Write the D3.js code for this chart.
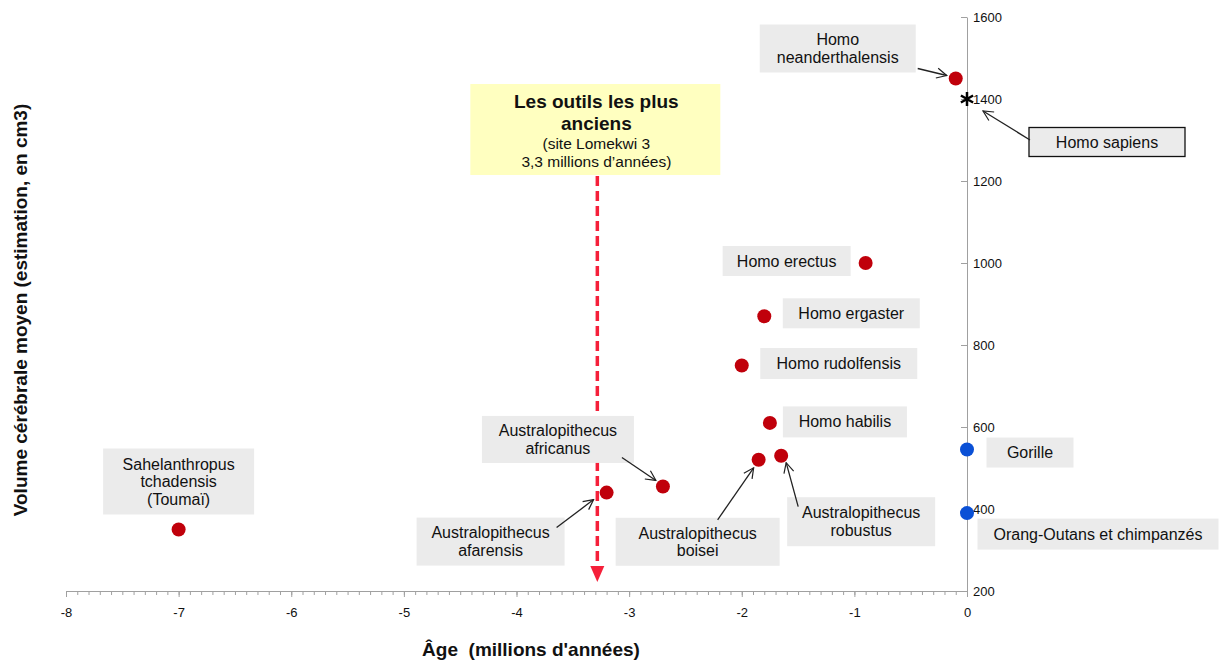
<!DOCTYPE html>
<html><head><meta charset="utf-8">
<script src="https://cdn.jsdelivr.net/npm/d3@7"></script>
<style>
html,body{margin:0;padding:0;background:#fff;}
svg{display:block;font-family:"Liberation Sans",Arial,sans-serif;}
</style></head>
<body><svg id="c" width="1219" height="661"></svg>
<script>
// ---- data ----
const species = ["Sahelanthropus tchadensis (Toumaï)","Australopithecus afarensis","Australopithecus africanus","Australopithecus boisei","Australopithecus robustus","Homo habilis","Homo rudolfensis","Homo ergaster","Homo erectus","Homo neanderthalensis","Homo sapiens","Gorille","Orang-Outans et chimpanzés"];
const ages    = [-7, -3.2, -2.7, -1.85, -1.65, -1.75, -2, -1.8, -0.9, -0.1, 0, 0, 0];
const volumes = [350, 440, 455, 520, 530, 610, 750, 870, 1000, 1450, 1400, 545, 390];
const groups  = ["hominine","hominine","hominine","hominine","hominine","hominine","hominine","hominine","hominine","hominine","sapiens","ape","ape"];
const labelLines = [
  ["Sahelanthropus","tchadensis","(Toumaï)"],
  ["Australopithecus","afarensis"],
  ["Australopithecus","africanus"],
  ["Australopithecus","boisei"],
  ["Australopithecus","robustus"],
  ["Homo habilis"],
  ["Homo rudolfensis"],
  ["Homo ergaster"],
  ["Homo erectus"],
  ["Homo","neanderthalensis"],
  ["Homo sapiens"],
  ["Gorille"],
  ["Orang-Outans et chimpanzés"]
];
const xTicks = [-8,-7,-6,-5,-4,-3,-2,-1,0];
const xTickLabels = ["-8","-7","-6","-5","-4","-3","-2","-1","0"];
const yTicks = [200,400,600,800,1000,1200,1400,1600];
const toolAge = -3.3;
const toolTitle = ["Les outils les plus","anciens"];
const toolSub = ["(site Lomekwi 3","3,3 millions d’années)"];
const xTitle = "Âge  (millions d'années)";
const yTitle = "Volume cérébrale moyen (estimation, en cm3)";

// ---- layout (box centre offsets from point in px, box size, optional arrow) ----
const layout = [
  {dx:0,dy:-48,w:151,h:66},
  {dx:-116,dy:49,w:148,h:48,arrow:[[-50,35],[-13,7]]},
  {dx:-105,dy:-47,w:152,h:47,arrow:[[-41,-29],[-7,-6]]},
  {dx:-61,dy:82,w:164,h:48,arrow:[[-41,60],[-5,8]]},
  {dx:80,dy:66,w:148,h:49,arrow:[[17,51],[5,7]]},
  {dx:75,dy:-1,w:124,h:31},
  {dx:97,dy:-2,w:157,h:31},
  {dx:87,dy:-3,w:137,h:30},
  {dx:-79,dy:-2,w:128,h:30},
  {dx:-118,dy:-30,w:156,h:48,arrow:[[-38,-10],[-9,-3]]},
  {dx:140,dy:43,w:156,h:29,border:true,arrow:[[63,41],[16,12]]},
  {dx:63,dy:3,w:87,h:30},
  {dx:131,dy:21,w:241,h:31}
];
const colors = {hominine:"#c0000b", ape:"#0a50d6", sapiens:"#000"};

const svg = d3.select("#c");
const x = d3.scaleLinear().domain([-8,0]).range([66,967]);
const y = d3.scaleLinear().domain([200,1600]).range([591,17]);
const axisCol = "#a0a0a0";

// arrow marker
const defs = svg.append("defs");
defs.append("marker").attr("id","open").attr("viewBox","0 0 12 12").attr("refX",11).attr("refY",6)
  .attr("markerWidth",12).attr("markerHeight",12).attr("markerUnits","userSpaceOnUse").attr("orient","auto")
  .append("path").attr("d","M1,1 L11,6 L1,11").attr("fill","none").attr("stroke","#222").attr("stroke-width",1.2);

// x axis
const gx = svg.append("g").attr("transform",`translate(0,${y(200)})`);
gx.call(d3.axisBottom(x).tickValues(d3.range(-80,1).map(d=>d/10)).tickSize(4).tickFormat(""))
  .call(g=>g.select(".domain").attr("stroke",axisCol))
  .call(g=>g.selectAll(".tick line").attr("stroke",axisCol));
gx.append("g").call(d3.axisBottom(x).tickValues(xTicks).tickSize(6).tickPadding(8).tickFormat((d,i)=>xTickLabels[i]))
  .call(g=>g.select(".domain").remove())
  .call(g=>g.selectAll(".tick line").attr("stroke",axisCol))
  .call(g=>g.selectAll("text").attr("font-size",13).attr("fill","#111").attr("font-family","Liberation Sans, Arial, sans-serif").attr("dy","0.9em"));

// y axis at x=0
const gy = svg.append("g").attr("transform",`translate(${x(0)},0)`);
gy.call(d3.axisRight(y).tickValues(yTicks).tickSize(0).tickPadding(6).tickFormat(d3.format("d")))
  .call(g=>g.select(".domain").attr("stroke",axisCol))
  .call(g=>g.selectAll("text").attr("font-size",13).attr("fill","#111").attr("font-family","Liberation Sans, Arial, sans-serif"));
gy.selectAll(".tick").append("line").attr("x1",-6).attr("x2",0).attr("stroke",axisCol);

// axis titles
svg.append("text").attr("x",531).attr("y",656).attr("text-anchor","middle").attr("font-weight","bold")
  .attr("font-size",19).attr("fill","#111").attr("xml:space","preserve").text(xTitle);
svg.append("text").attr("transform",`translate(27,310) rotate(-90)`).attr("text-anchor","middle").attr("font-weight","bold")
  .attr("font-size",19).attr("fill","#111").text(yTitle);

// tool annotation
const tx = x(toolAge);
const box = svg.append("g");
box.append("rect").attr("x",tx-125).attr("y",84).attr("width",250).attr("height",91).attr("fill","#ffffc0");
toolTitle.forEach((t,i)=>box.append("text").attr("x",tx+1).attr("y",108+i*22).attr("text-anchor","middle")
  .attr("font-weight","bold").attr("font-size",19).attr("fill","#111").text(t));
toolSub.forEach((t,i)=>box.append("text").attr("x",tx+1).attr("y",149+i*18).attr("text-anchor","middle")
  .attr("font-size",15.5).attr("fill","#111").text(t));
svg.append("line").attr("x1",tx+2).attr("x2",tx+2).attr("y1",176).attr("y2",566)
  .attr("stroke","#f5203a").attr("stroke-width",3.5).attr("stroke-dasharray","10,5");
svg.append("path").attr("d",`M${tx-5},566 L${tx+9},566 L${tx+2},582 Z`).attr("fill","#f5203a");

// labels
const pts = species.map((s,i)=>({name:s, age:ages[i], vol:volumes[i], group:groups[i], lines:labelLines[i], L:layout[i]}));
const lab = svg.append("g");
pts.forEach(p=>{
  const px = x(p.age), py = y(p.vol), L = p.L;
  const cx = px+L.dx, cy = py+L.dy;
  lab.append("rect").attr("x",cx-L.w/2).attr("y",cy-L.h/2).attr("width",L.w).attr("height",L.h)
    .attr("fill","#ebebeb").attr("stroke",L.border?"#111":"none").attr("stroke-width",L.border?1.3:0);
  const n = p.lines.length, lh = 17.5;
  p.lines.forEach((t,i)=>lab.append("text").attr("x",cx).attr("y",cy+(i-(n-1)/2)*lh+5.5)
    .attr("text-anchor","middle").attr("font-size",16).attr("fill","#111").text(t));
  if(L.arrow){
    lab.append("line").attr("x1",px+L.arrow[0][0]).attr("y1",py+L.arrow[0][1])
      .attr("x2",px+L.arrow[1][0]).attr("y2",py+L.arrow[1][1])
      .attr("stroke","#222").attr("stroke-width",1.3).attr("marker-end","url(#open)");
  }
});

// points
const sym = d3.symbol().type(d3.symbolAsterisk).size(140);
pts.forEach(p=>{
  if(p.group==="sapiens"){
    svg.append("path").attr("d",sym()).attr("transform",`translate(${x(p.age)},${y(p.vol)})`)
      .attr("stroke","#000").attr("stroke-width",2.5).attr("fill","none");
  } else {
    svg.append("circle").attr("cx",x(p.age)).attr("cy",y(p.vol)).attr("r",7).attr("fill",colors[p.group]);
  }
});
</script></body></html>
